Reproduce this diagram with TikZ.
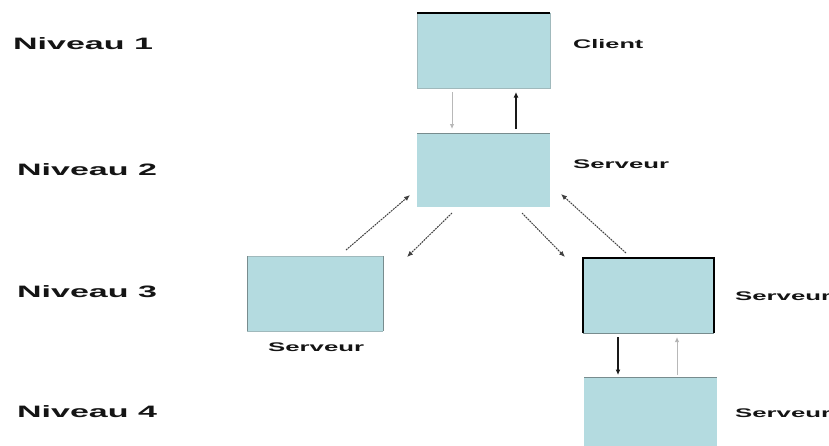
\documentclass[tikz,border=0pt]{standalone}
\usepackage{fontspec}
\setmainfont{Liberation Sans}
\usetikzlibrary{arrows.meta}
\definecolor{boxblue}{RGB}{180,219,224}
\definecolor{edgegray}{RGB}{120,140,142}
\definecolor{lightedge}{RGB}{160,185,188}
\begin{document}
\begin{tikzpicture}[x=1pt,y=-1pt,
  box/.style={fill=boxblue, inner sep=0pt, outer sep=0pt},
  level/.style={anchor=west, inner sep=0pt, text=black!92,
    font=\fontsize{16.5}{16.5}\selectfont\bfseries},
  tag/.style={anchor=west, inner sep=0pt, text=black!92,
    font=\fontsize{12.5}{12.5}\selectfont\bfseries},
  link/.style={draw=black!75, line width=1pt, dash pattern=on 1.8pt off 0.9pt,
    -{Latex[length=6pt,width=5pt]}},
  strong/.style={draw=black!90, line width=1.6pt, -{Latex[length=5.5pt,width=5pt]}},
  faint/.style={draw=black!28, line width=1pt, -{Latex[length=5pt,width=4.5pt,fill=black!80]}},
  darkedge/.style={draw=black, line width=1.3pt},
  softedge/.style={draw=lightedge, line width=0.8pt},
  midedge/.style={draw=edgegray, line width=1pt}]
\useasboundingbox (0,0) rectangle (829,445);
\clip (0,0) rectangle (829,445);
\fill[white] (0,0) rectangle (829,445);

% boxes
\node[box, minimum width=133pt, minimum height=75pt] (client) at (483.5,50.5) {};
\node[box, minimum width=133pt, minimum height=74pt] (s2) at (483.5,170) {};
\node[box, minimum width=136pt, minimum height=75pt] (s3l) at (315,293.5) {};
\node[box, minimum width=131pt, minimum height=75pt] (s3r) at (648.5,295.5) {};
\node[box, minimum width=133pt, minimum height=86pt] (s4) at (650.5,420) {};

% box outlines
\draw[softedge] (client.north east) -- (client.south east) -- (client.south west) -- (client.north west);
\draw[darkedge] (client.north west) -- (client.north east);
\draw[midedge] (s2.north west) -- (s2.north east);
\draw[softedge] (s3l.north west) -- (s3l.north east);
\draw[softedge] (s3l.south west) -- (s3l.south east);
\draw[midedge] (s3l.north west) -- (s3l.south west);
\draw[midedge] (s3l.north east) -- (s3l.south east);
\draw[midedge] (s3r.south west) -- (s3r.south east);
\draw[darkedge] (s3r.south west) -- (s3r.north west) -- (s3r.north east) -- (s3r.south east);
\draw[midedge] (s4.north west) -- (s4.north east);

% level captions
\node[level] (n1) at (13,44) {\scalebox{2.06}[1]{Niveau 1}};
\node[level] (n2) at (17,170) {\scalebox{2.06}[1]{Niveau 2}};
\node[level] (n3) at (17,292) {\scalebox{2.06}[1]{Niveau 3}};
\node[level] (n4) at (17,412) {\scalebox{2.06}[1]{Niveau 4}};

% box captions (the two on the right run past the edge)
\node[tag] (tclient) at (573,44) {\scalebox{2.02}[1]{Client}};
\node[tag] (ts2) at (573,164) {\scalebox{2.06}[1]{Serveur}};
\node[tag] (ts3l) at (268,347) {\scalebox{2.06}[1]{Serveur}};
\node[tag] (ts3r) at (735,296) {\scalebox{2.06}[1]{Serveur}};
\node[tag] (ts4) at (735,413) {\scalebox{2.06}[1]{Serveur}};

% client <-> level 2 server
\draw[faint, shorten <=4pt, shorten >=4pt]
  ([xshift=-31.5pt]client.south) -- ([xshift=-31.5pt]s2.north);
\draw[strong, shorten <=4pt, shorten >=4pt]
  ([xshift=32.5pt]s2.north) -- ([xshift=32.5pt]client.south);

% level 2 <-> level 3
\draw[link] ([shift={(31,-6)}]s3l.north) -- ([shift={(-7,-12)}]s2.south west);
\draw[link] ([shift={(-31.5,6)}]s2.south) -- ([shift={(24,1)}]s3l.north east);
\draw[link] ([shift={(38.5,6)}]s2.south) -- ([shift={(-18,-1)}]s3r.north west);
\draw[link] ([shift={(-22.5,-5)}]s3r.north) -- ([shift={(11,-13)}]s2.south east);

% level 3 <-> level 4
\draw[strong, line width=1.4pt, shorten <=4pt, shorten >=2pt]
  ([xshift=-30.5pt]s3r.south) -- ([xshift=-30.5pt]s3r.south |- s4.north);
\draw[faint, shorten <=2pt, shorten >=4pt]
  ([xshift=28.5pt]s3r.south |- s4.north) -- ([xshift=28.5pt]s3r.south);
\end{tikzpicture}
\end{document}
